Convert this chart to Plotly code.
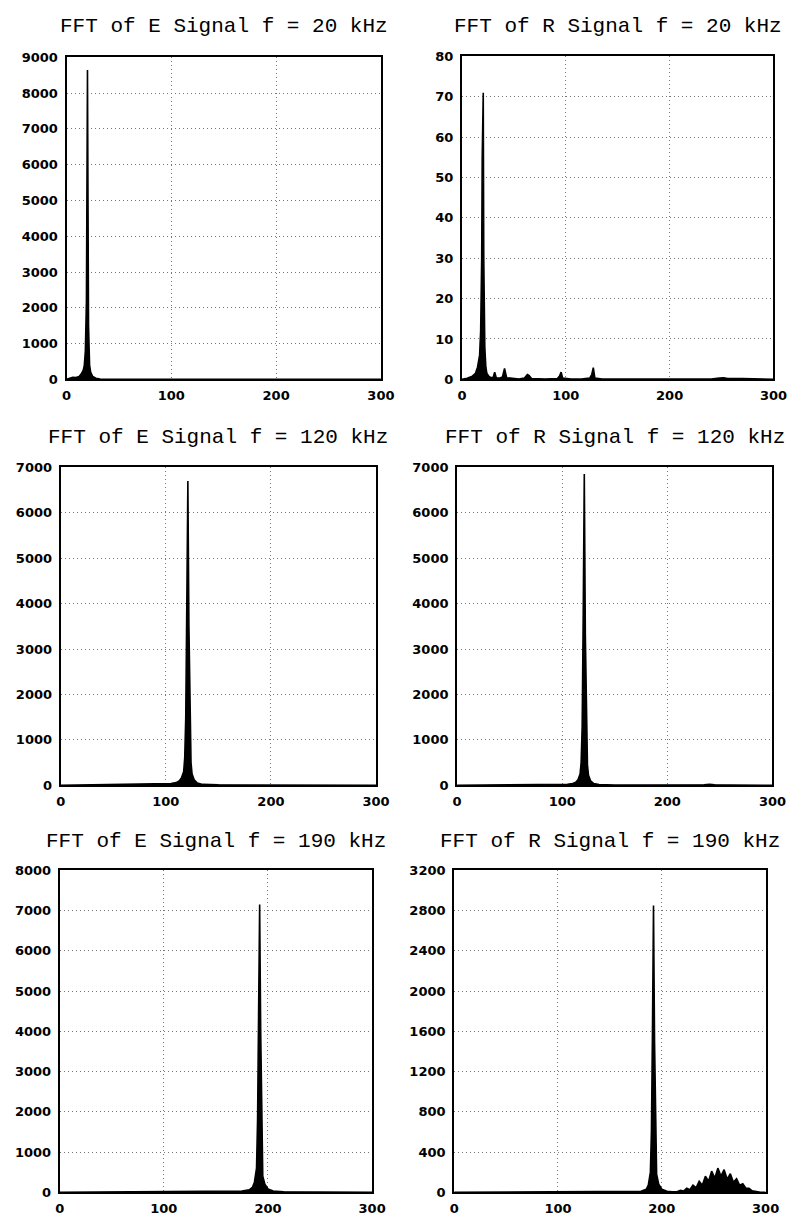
import plotly.graph_objects as go

W, H = 806, 1222

# ---------------- data ----------------
titles = ["FFT of E Signal f = 20 kHz", "FFT of R Signal f = 20 kHz",
          "FFT of E Signal f = 120 kHz", "FFT of R Signal f = 120 kHz",
          "FFT of E Signal f = 190 kHz", "FFT of R Signal f = 190 kHz"]

x_ticks = [0, 100, 200, 300]

e20_x = [0, 3, 6, 9, 12, 14, 16, 17, 18, 19, 19.5, 20, 20.5, 21, 22, 23, 25, 28, 32, 40, 60, 100, 150, 200, 250, 300]
e20_y = [0, 40, 60, 50, 80, 150, 260, 400, 800, 2200, 5000, 8650, 5000, 1500, 400, 200, 80, 30, 10, 0, 0, 0, 0, 0, 0, 0]

r20_x = [0, 5, 10, 13, 15, 17, 18, 19, 19.5, 20.5, 21, 22, 23, 24, 26, 28, 30, 31.5, 33, 36, 39, 41, 43, 48, 55, 60, 63, 64.5, 67,
         80, 92, 94, 95.5, 97, 105, 115, 123, 125, 126.5, 128, 135, 160, 200, 240, 248, 252, 256, 265, 270, 300]
r20_y = [0, 0.3, 0.8, 1.5, 3, 6, 12, 30, 55, 71, 30, 8, 3, 1.5, 0.7, 0.4, 0.5, 1.8, 0.4, 0.3, 0.6, 2.7, 0.4, 0.2, 0.1, 0.3, 1.2, 1.0, 0.2,
         0.1, 0.2, 0.8, 1.8, 0.3, 0.1, 0.1, 0.3, 1.2, 2.9, 0.3, 0.1, 0.1, 0.1, 0.1, 0.3, 0.4, 0.2, 0.1, 0.2, 0]

e120_x = [0, 30, 60, 90, 105, 110, 113, 115, 117, 118, 119, 120, 121, 122, 123, 124, 125, 127, 130, 135, 150, 200, 250, 300]
e120_y = [0, 10, 15, 20, 40, 60, 100, 170, 300, 600, 1500, 4000, 6700, 3500, 1200, 500, 250, 120, 50, 20, 10, 5, 5, 0]

r120_x = [0, 30, 60, 90, 105, 110, 113, 115, 117, 118, 119, 120, 121, 122, 123, 124, 125, 127, 130, 135, 150, 200, 235, 240, 245, 260, 300]
r120_y = [0, 5, 10, 15, 25, 40, 70, 120, 250, 500, 1300, 3800, 6850, 3300, 1100, 450, 220, 100, 40, 15, 8, 5, 10, 20, 10, 5, 0]

e190_x = [0, 50, 100, 150, 175, 182, 185, 187, 189, 190, 191, 192, 193, 194, 195, 197, 200, 205, 215, 250, 300]
e190_y = [0, 5, 10, 15, 30, 60, 120, 250, 600, 1800, 4500, 7150, 4000, 1300, 400, 200, 80, 30, 10, 5, 0]

r190_x = [0, 50, 100, 150, 180, 185, 187, 189, 190, 191, 192, 193, 194, 195, 197, 200, 205, 210,
          215, 218, 221, 224, 227, 230, 233, 236, 239, 242, 245, 248, 251, 254, 257, 260, 263, 266,
          269, 272, 275, 278, 281, 284, 287, 290, 295, 300]
r190_y = [0, 2, 3, 5, 10, 30, 70, 200, 600, 1600, 2850, 1500, 500, 180, 80, 30, 10, 5,
          8, 20, 12, 40, 25, 70, 45, 110, 70, 160, 110, 210, 140, 240, 160, 225, 130, 185,
          100, 135, 70, 85, 40, 40, 15, 10, 0, 0]

series = [(e20_x, e20_y), (r20_x, r20_y), (e120_x, e120_y), (r120_x, r120_y), (e190_x, e190_y), (r190_x, r190_y)]
y_max = [9000, 80, 7000, 7000, 8000, 3200]
y_step = [1000, 10, 1000, 1000, 1000, 400]

# ---------------- layout (pixel boxes) ----------------
boxes = [  # x0, x1, ytop, ybottom
    (63, 385, 51, 377), (468, 787, 50, 377),
    (57, 380, 466, 788), (463, 786, 466, 788),
    (56, 376, 874, 1200), (460, 779, 874, 1200),
]
title_y = [20, 20, 436, 436, 845, 845]

fig = go.Figure()
annotations = []
tick_font = dict(family="DejaVu Sans", size=13, color="black", weight="bold")
for i, ((xs, ys), (x0, x1, yt, yb)) in enumerate(zip(series, boxes)):
    n = i + 1
    xa = "x" if n == 1 else f"x{n}"
    ya = "y" if n == 1 else f"y{n}"
    fig.add_trace(go.Scatter(x=xs, y=ys, mode="lines", xaxis=xa, yaxis=ya,
                             line=dict(color="black", width=1.6),
                             fill="tozeroy", fillcolor="black", showlegend=False))
    common = dict(showline=True, linecolor="black", linewidth=2, mirror=True,
                  showgrid=True, gridcolor="#777777", griddash="1px,3px", gridwidth=1,
                  ticks="", zeroline=False, tickfont=tick_font)
    fig.layout[f"xaxis{'' if n == 1 else n}"] = dict(
        domain=[x0 / W, x1 / W], anchor=ya, range=[0, 300], tickvals=x_ticks,
        ticklabelstandoff=3, **common)
    yt_vals = list(range(0, y_max[i] + 1, y_step[i]))
    fig.layout[f"yaxis{'' if n == 1 else n}"] = dict(
        domain=[1 - yb / H, 1 - yt / H], anchor=xa, range=[0, y_max[i]],
        tickvals=yt_vals, ticklabelstandoff=4, **common)
    annotations.append(dict(text=titles[i], x=(x0 + x1) / 2 / W, y=1 - title_y[i] / H,
                            xref="paper", yref="paper", showarrow=False,
                            xanchor="center", yanchor="middle",
                            font=dict(family="Liberation Mono", size=21, color="black")))

fig.update_layout(width=W, height=H, margin=dict(l=0, r=0, t=0, b=0),
                  paper_bgcolor="white", plot_bgcolor="white",
                  annotations=annotations)

fig.write_html("out.html")
